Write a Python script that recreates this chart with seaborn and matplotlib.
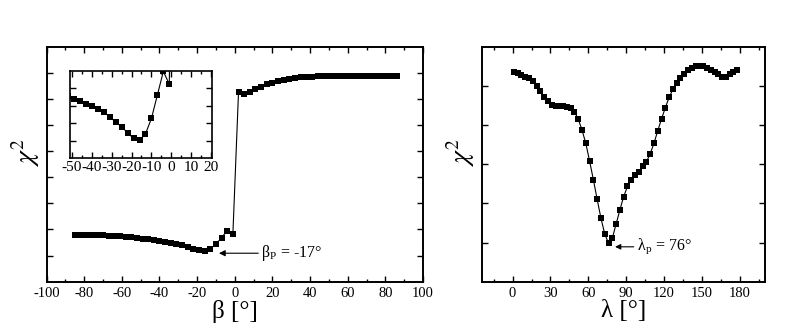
import numpy as np
import pandas as pd
import matplotlib
matplotlib.use("Agg")
import matplotlib.pyplot as plt
from matplotlib.ticker import MultipleLocator, FixedLocator, NullFormatter
import seaborn as sns

# ---------------- data ----------------
beta_deg = list(range(-85, 87, 3))  # -85 ... 86
beta_chi2 = [1.79, 1.79, 1.785, 1.78, 1.775, 1.77, 1.76, 1.75, 1.74, 1.72,
             1.70, 1.68, 1.65, 1.62, 1.59, 1.57, 1.53, 1.50, 1.45, 1.39,
             1.34, 1.27, 1.21, 1.19, 1.26, 1.43, 1.69, 1.95, 1.81,
             7.25, 7.19, 7.26, 7.36, 7.46, 7.55, 7.62, 7.68, 7.73, 7.77,
             7.80, 7.82, 7.84, 7.85, 7.86, 7.87, 7.87, 7.87, 7.875, 7.875,
             7.88, 7.88, 7.88, 7.88, 7.88, 7.88, 7.88, 7.88, 7.88]

lambda_deg = list(range(1, 179, 3))  # 1 ... 178
lambda_chi2 = [5.36, 5.32, 5.28, 5.23, 5.19, 5.11, 5.00, 4.87, 4.72, 4.60,
               4.51, 4.47, 4.47, 4.47, 4.45, 4.43, 4.34, 4.15, 3.87, 3.53,
               3.08, 2.60, 2.10, 1.62, 1.22, 0.98, 1.11, 1.47, 1.83, 2.17,
               2.43, 2.60, 2.72, 2.81, 2.94, 3.06, 3.26, 3.53, 3.85, 4.15,
               4.44, 4.70, 4.91, 5.08, 5.19, 5.29, 5.39, 5.45, 5.49, 5.51,
               5.49, 5.46, 5.40, 5.35, 5.29, 5.23, 5.23, 5.29, 5.34, 5.39]

beta_ticks = [-100, -80, -60, -40, -20, 0, 20, 40, 60, 80, 100]
lambda_ticks = [0, 30, 60, 90, 120, 150, 180]
inset_ticks = [-50, -40, -30, -20, -10, 0, 10, 20]

beta_label = "β [°]"
lambda_label = "λ [°]"
chi_label = r"$\chi^2$"
beta_note = r"β$_\mathregular{P}$ = -17°"
lambda_note = r"λ$_\mathregular{p}$ = 76°"

df_b = pd.DataFrame({"beta": beta_deg, "chi2": beta_chi2})
df_l = pd.DataFrame({"lam": lambda_deg, "chi2": lambda_chi2})

# ---------------- style ----------------
sns.set_theme(style="ticks")
plt.rcParams["font.family"] = ["Liberation Serif", "DejaVu Serif"]
plt.rcParams["mathtext.fontset"] = "stix"
plt.rcParams["axes.unicode_minus"] = False
plt.rcParams["axes.linewidth"] = 1.4
plt.rcParams["axes.edgecolor"] = "black"
plt.rcParams["text.color"] = "black"
plt.rcParams["axes.labelcolor"] = "black"
plt.rcParams["xtick.color"] = "black"
plt.rcParams["ytick.color"] = "black"

fig = plt.figure(figsize=(8.0, 3.3), dpi=100)
fig.patch.set_facecolor("white")

W, H = 800.0, 330.0
def rect(x0, y0, x1, y1):
    return [x0 / W, 1 - y1 / H, (x1 - x0) / W, (y1 - y0) / H]

ax1 = fig.add_axes(rect(46.5, 46.5, 423.0, 281.7))
ax2 = fig.add_axes(rect(481.7, 46.5, 765.0, 281.7))
axi = fig.add_axes(rect(70.0, 71.0, 212.0, 158.3))

line_kw = dict(color="black", linewidth=0.8, marker="s", markersize=3.9,
               markeredgewidth=0, markerfacecolor="black", sort=False)

sns.lineplot(data=df_b, x="beta", y="chi2", ax=ax1, **line_kw)
sns.lineplot(data=df_l, x="lam", y="chi2", ax=ax2, **line_kw)
sns.lineplot(data=df_b, x="beta", y="chi2", ax=axi, **line_kw)

def style_ax(ax, lw=1.4, fs=10.5, pad=4, major_len=4.5, minor_len=2.5):
    for s in ax.spines.values():
        s.set_visible(True)
        s.set_linewidth(lw)
        s.set_color("black")
    ax.tick_params(which="both", direction="in", top=True, right=True,
                   colors="black", labelcolor="black", labelsize=fs, pad=pad)
    ax.tick_params(which="major", length=major_len, width=1.0)
    ax.tick_params(which="minor", length=minor_len, width=1.0)
    ax.set_facecolor("white")
    ax.grid(False)

# main left
ax1.set_xlim(-100, 100)
ax1.set_ylim(0, 9)
ax1.set_xticks(beta_ticks)
ax1.xaxis.set_minor_locator(MultipleLocator(10))
ax1.yaxis.set_major_locator(FixedLocator([1, 2, 3, 4, 5, 6, 7, 8]))
ax1.yaxis.set_major_formatter(NullFormatter())
style_ax(ax1)
ax1.set_xlabel(beta_label, fontsize=18, labelpad=0, color="black")
ax1.set_ylabel(chi_label, fontsize=20, labelpad=2, color="black")
ax1.yaxis.set_label_coords(-0.012, 0.55)

ax1.annotate("", xy=(-8.4, 1.09), xytext=(12.5, 1.09),
             arrowprops=dict(arrowstyle="-|>", color="black", lw=0.8,
                             mutation_scale=9, shrinkA=0, shrinkB=0))
ax1.text(14.0, 1.09, beta_note, fontsize=11.5, ha="left", va="center",
         color="black")

# right
ax2.set_xlim(-24.5, 200)
ax2.set_ylim(0, 6)
ax2.set_xticks(lambda_ticks)
ax2.xaxis.set_minor_locator(FixedLocator(list(range(-15, 200, 15))))
ax2.yaxis.set_major_locator(FixedLocator([1, 2, 3, 4, 5]))
ax2.yaxis.set_major_formatter(NullFormatter())
style_ax(ax2)
ax2.set_xlabel(lambda_label, fontsize=18, labelpad=0, color="black")
ax2.set_ylabel(chi_label, fontsize=20, labelpad=2, color="black")
ax2.yaxis.set_label_coords(-0.017, 0.55)

ax2.annotate("", xy=(81.2, 0.89), xytext=(96.0, 0.89),
             arrowprops=dict(arrowstyle="-|>", color="black", lw=0.8,
                             mutation_scale=8, shrinkA=0, shrinkB=0))
ax2.text(98.4, 0.89, lambda_note, fontsize=11.5, ha="left", va="center",
         color="black")

# inset
axi.set_xlim(-51, 20.5)
ylo, yhi = 0.99, 1.955
axi.set_ylim(ylo, yhi)
axi.set_xticks(inset_ticks)
axi.xaxis.set_minor_locator(MultipleLocator(5))
axi.yaxis.set_major_locator(FixedLocator(list(np.linspace(ylo, yhi, 6)[1:-1])))
axi.yaxis.set_major_formatter(NullFormatter())
style_ax(axi, lw=1.2, fs=11, pad=2, major_len=4, minor_len=2.5)
axi.set_xlabel("")
axi.set_ylabel("")

fig.savefig("out.png", dpi=100, facecolor="white")
